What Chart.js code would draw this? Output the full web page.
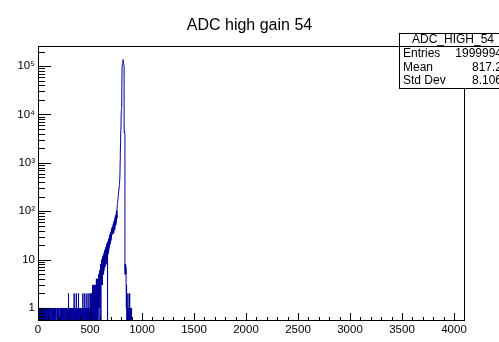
<!DOCTYPE html>
<html>
<head>
<meta charset="utf-8">
<script src="https://cdn.jsdelivr.net/npm/chart.js@4"></script>
<style>
  html, body { margin: 0; padding: 0; background: #fff; }
</style>
</head>
<body>
<canvas id="adcChart" width="499" height="342"></canvas>
<script>
// Histogram ADC high gain 54 (ROOT style), log y.
const titleText = 'ADC high gain 54';
const statsName = 'ADC_HIGH_54';
const statsLabels = ['Entries', 'Mean', 'Std Dev'];
const statsValues = ['1999994', '817.2', '8.106'];

const xTickValues = [0, 500, 1000, 1500, 2000, 2500, 3000, 3500, 4000];
const xTickLabels = ['0', '500', '1000', '1500', '2000', '2500', '3000', '3500', '4000'];
const yTickValues = [1, 10, 100, 1000, 10000, 100000];
const yTickLabels = ['1', '10', '10\u00B2', '10\u00B3', '10\u2074', '10\u2075'];

// sparse hits below channel 500
const lowChannels = [
  1, 4, 7, 11, 14, 18, 22, 25, 29, 33, 37, 40, 44, 48, 52, 57, 61, 66, 70, 75, 80, 85, 91, 97, 103, 110, 116,
  126, 133, 141, 147, 158, 164, 171, 183, 190, 198, 211, 217, 224, 236, 243, 252, 262, 270, 277, 285, 293,
  300, 306, 313, 319, 326, 334, 341, 347, 355, 361, 368, 376, 383, 389, 396, 404, 411, 417, 424, 431,
  437, 444, 450, 457, 463, 470, 476, 483, 489, 495
];
const lowCounts = [
  1, 1, 1, 1, 1, 1, 1, 1, 1, 1, 1, 1, 1, 1, 1, 1, 1, 1, 1, 1, 1, 1, 1, 1, 1, 1, 1,
  1, 1, 1, 1, 1, 1, 1, 1, 1, 1, 1, 1, 1, 1, 1, 1, 1, 1, 1, 1, 2,
  1, 1, 1, 1, 1, 1, 1, 2, 1, 1, 2, 1, 1, 2, 1, 1, 1, 1, 1, 2,
  1, 1, 2, 1, 1, 2, 1, 1, 2, 1
];

// every channel from 500 upward
const blockStart = 500;
const blockCounts = [
  1, 0, 1, 0, 2, 1, 0, 1, 0, 1,            // 500
  2, 1, 0, 1, 1, 0, 2, 1, 0, 1,
  0, 1, 2, 1, 0, 3, 1, 0, 1, 2,
  1, 0, 2, 1, 3, 0, 1, 2, 1, 0,
  2, 1, 3, 0, 1, 2, 1, 3, 0, 2,
  1, 3, 0, 2, 1, 3, 2, 0, 3, 1,            // 550
  2, 4, 1, 0, 3, 2, 4, 1, 2, 3,
  1, 4, 2, 0, 3, 4, 1, 2, 4, 3,
  2, 4, 1, 3, 5, 2, 0, 4, 3, 5,
  2, 4, 6, 3, 1, 5, 3, 6, 2, 5,
  4, 8, 3, 6, 0, 7, 3, 8, 4, 6,            // 600
  5, 10, 4, 7, 9, 4, 8, 5, 3, 10,
  6, 11, 5, 8, 12, 5, 9, 6, 11, 7,
  5, 12, 8, 13, 6, 10, 14, 7, 12, 8,
  15, 9, 13, 7, 16, 10, 14, 8, 16, 11,
  15, 9, 18, 12, 8, 17, 11, 19, 13, 10,    // 650
  19, 12, 21, 14, 10, 22, 15, 20, 0, 13,
  22, 14, 24, 16, 21, 13, 23, 17, 24, 15,
  26, 17, 24, 28, 18, 27, 20, 27, 19, 25,
  23, 32, 21, 31, 34, 22, 30, 25, 33, 24,
  35, 26, 38, 28, 37, 40, 29, 39, 32, 38,  // 700
  44, 33, 42, 46, 35, 48, 40, 47, 38, 46,
  47, 34, 44, 54, 37, 56, 40, 55, 36, 52,
  60, 41, 57, 63, 44, 66, 46, 64, 42, 66,
  71, 50, 68, 78, 53, 77, 55, 79, 52, 80,
  84, 60, 80, 95, 66, 99, 68, 103, 72, 108,            // 750
  117, 126, 129, 139, 144, 153, 158, 170, 174, 186,
  195, 206, 214, 228, 236, 251, 259, 276, 288, 305,
  318, 340, 355, 381, 402, 430, 470, 550, 690, 880,
  1150, 1550, 2050, 2650, 3300, 4000, 4650, 5400, 6800, 8800,
  10500, 12000, 12800, 13300, 13800, 19000, 38000, 68000, 92000, 104000,   // 800
  106000, 108000, 110000, 109000, 112000, 114000, 116000, 121000, 136000, 125000,
  119000, 117000, 115000, 113000, 111000, 108000, 104000, 98000, 4650, 4450,
  4300, 4500, 4200, 4350, 4050, 3900, 7, 5, 8, 6,
  7, 5, 8, 6, 7, 5, 6, 3, 2, 1,
  2, 3, 2                                   // 850
];

const tailChannels = [858, 864, 869, 875, 881, 887, 893, 899];
const tailCounts = [1, 2, 1, 1, 2, 1, 1, 1];

const nBins = 4096;
const EMPTY = 0.1; // below the axis minimum, so empty bins drop to the frame

// collect filled bins, then turn them into histogram step points
const bins = [];
lowChannels.forEach((ch, i) => bins.push([ch, lowCounts[i]]));
blockCounts.forEach((c, i) => { if (c > 0) bins.push([blockStart + i, c]); });
tailChannels.forEach((ch, i) => bins.push([ch, tailCounts[i]]));

const histPoints = [{ x: 0, y: EMPTY }];
bins.forEach(([ch, c], i) => {
  histPoints.push({ x: ch, y: c });
  const next = bins[i + 1];
  if (!next || next[0] !== ch + 1) histPoints.push({ x: ch + 1, y: EMPTY });
});
histPoints.push({ x: nBins, y: EMPTY });

const font = '"Liberation Sans", Arial, Helvetica, sans-serif';

// ROOT-like frame, inward ticks, title and stats box
const rootStyle = {
  id: 'rootStyle',
  afterDraw(chart) {
    const { ctx, chartArea: a, scales: { x, y } } = chart;
    ctx.save();
    ctx.strokeStyle = '#000';
    ctx.lineWidth = 1;

    const yMinor = [];
    [0.1, 1, 10, 100, 1000, 10000, 100000].forEach(d => {
      for (let m = 2; m <= 9; m++) {
        const v = m * d;
        if (v >= y.min && v <= y.max) yMinor.push(v);
      }
    });
    const xMinor = [];
    for (let v = 100; v < 4096; v += 100) if (v % 500) xMinor.push(v);

    ctx.beginPath();
    yTickValues.forEach(v => {
      const py = Math.round(y.getPixelForValue(v)) + 0.5;
      ctx.moveTo(a.left, py); ctx.lineTo(a.left + 13, py);
    });
    yMinor.forEach(v => {
      const py = Math.round(y.getPixelForValue(v)) + 0.5;
      ctx.moveTo(a.left, py); ctx.lineTo(a.left + 7, py);
    });
    xTickValues.forEach(v => {
      const px = Math.round(x.getPixelForValue(v)) + 0.5;
      ctx.moveTo(px, a.bottom); ctx.lineTo(px, a.bottom - 8);
    });
    xMinor.forEach(v => {
      const px = Math.round(x.getPixelForValue(v)) + 0.5;
      ctx.moveTo(px, a.bottom); ctx.lineTo(px, a.bottom - 4);
    });
    ctx.stroke();

    ctx.strokeRect(Math.round(a.left) + 0.5, Math.round(a.top) + 0.5,
      Math.round(a.right - a.left), Math.round(a.bottom - a.top) - 1);

    // title
    ctx.fillStyle = '#000';
    ctx.font = '16px ' + font;
    ctx.textAlign = 'center';
    ctx.textBaseline = 'alphabetic';
    ctx.fillText(titleText, 249.5, 30);

    // stats box
    ctx.fillStyle = '#fff';
    ctx.fillRect(399, 33, 120, 55);
    ctx.strokeRect(399.5, 33.5, 120, 55);
    ctx.beginPath();
    ctx.moveTo(399.5, 46.5); ctx.lineTo(499, 46.5);
    ctx.stroke();
    ctx.fillStyle = '#000';
    ctx.font = '12px ' + font;
    ctx.fillText(statsName, 453, 43);
    statsLabels.forEach((lab, i) => {
      const by = 57 + i * 13.7;
      ctx.textAlign = 'left';
      ctx.fillText(lab, 403, by);
      ctx.textAlign = 'right';
      ctx.fillText(statsValues[i], 502, by);
    });
    ctx.restore();
  }
};

new Chart(document.getElementById('adcChart'), {
  type: 'line',
  data: {
    datasets: [{
      data: histPoints,
      borderColor: '#000099',
      borderWidth: 1,
      stepped: 'before',
      pointRadius: 0,
      fill: false
    }]
  },
  options: {
    responsive: false,
    animation: false,
    layout: { padding: { top: 46, right: 35, left: 0, bottom: 0 } },
    plugins: {
      legend: { display: false },
      tooltip: { enabled: false },
      title: { display: false }
    },
    scales: {
      x: {
        type: 'linear',
        min: 0,
        max: nBins,
        grid: { display: false, drawTicks: false },
        border: { display: false },
        afterBuildTicks: s => { s.ticks = xTickValues.map(v => ({ value: v })); },
        afterFit: s => { s.height = 21; },
        ticks: {
          autoSkip: false,
          maxRotation: 0,
          padding: 2,
          color: '#000',
          font: { family: font, size: 11.5 },
          callback: (v, i) => xTickLabels[i]
        }
      },
      y: {
        type: 'logarithmic',
        min: 0.54,
        max: 2.6e5,
        grid: { display: false, drawTicks: false },
        border: { display: false },
        afterBuildTicks: s => { s.ticks = yTickValues.map(v => ({ value: v })); },
        afterFit: s => { s.width = 38; },
        ticks: {
          autoSkip: false,
          padding: 3,
          color: '#000',
          font: { family: font, size: 11.5 },
          callback: (v, i) => yTickLabels[i]
        }
      }
    }
  },
  plugins: [rootStyle]
});
</script>
</body>
</html>
